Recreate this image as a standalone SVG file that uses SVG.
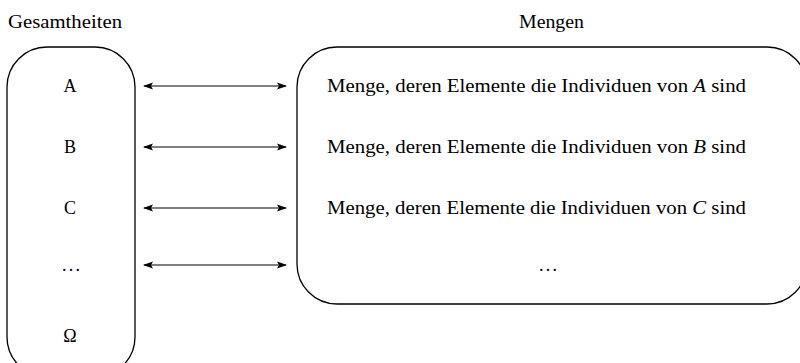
<svg xmlns="http://www.w3.org/2000/svg" width="800" height="363" viewBox="0 0 800 363">
<style>
text{font-family:"Liberation Serif","DejaVu Serif",serif;font-size:18px;fill:#000}
.box{fill:none;stroke:#000;stroke-width:1.3}
.c{stroke:#000;stroke-width:1.1;fill:none}
.m{text-anchor:middle}
</style>
<defs>
<marker id="ah" viewBox="0 0 10 10" refX="9" refY="5" markerWidth="10" markerHeight="10" markerUnits="userSpaceOnUse" orient="auto-start-reverse">
<path d="M0,1.5 L10,5 L0,8.5 L2,5 Z" fill="#000"/>
</marker>
</defs>
<text x="8" y="28" textLength="114" lengthAdjust="spacingAndGlyphs">Gesamtheiten</text>
<text x="519" y="28" textLength="65" lengthAdjust="spacingAndGlyphs">Mengen</text>
<g id="gesamtheiten">
<rect class="box" x="7" y="47" width="128" height="330" rx="40" ry="40"/>
<text x="70" y="92" class="m">A</text>
<text x="70" y="153" class="m">B</text>
<text x="70" y="214" class="m">C</text>
<text x="62" y="271" textLength="18" lengthAdjust="spacing">...</text>
<text x="70" y="342" class="m">Ω</text>
</g>
<g id="mengen">
<rect class="box" x="297" y="47" width="510" height="257" rx="40" ry="40"/>
<text x="327" y="92" textLength="419" lengthAdjust="spacingAndGlyphs">Menge, deren Elemente die Individuen von <tspan font-style="italic">A</tspan> sind</text>
<text x="327" y="153" textLength="419" lengthAdjust="spacingAndGlyphs">Menge, deren Elemente die Individuen von <tspan font-style="italic">B</tspan> sind</text>
<text x="327" y="214" textLength="419" lengthAdjust="spacingAndGlyphs">Menge, deren Elemente die Individuen von <tspan font-style="italic">C</tspan> sind</text>
<text x="539" y="271" textLength="18" lengthAdjust="spacing">...</text>
</g>
<g id="connectors">
<line class="c" x1="144" y1="86" x2="286" y2="86" marker-start="url(#ah)" marker-end="url(#ah)"/>
<line class="c" x1="144" y1="147" x2="286" y2="147" marker-start="url(#ah)" marker-end="url(#ah)"/>
<line class="c" x1="144" y1="208" x2="286" y2="208" marker-start="url(#ah)" marker-end="url(#ah)"/>
<line class="c" x1="144" y1="265" x2="286" y2="265" marker-start="url(#ah)" marker-end="url(#ah)"/>
</g>
</svg>
